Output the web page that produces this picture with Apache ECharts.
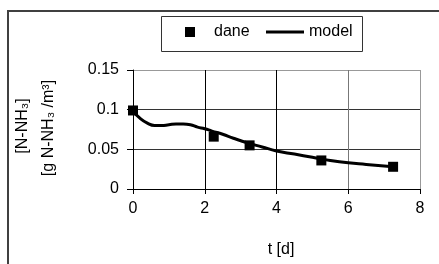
<!DOCTYPE html>
<html>
<head>
<meta charset="utf-8">
<script src="https://cdn.jsdelivr.net/npm/echarts@6/dist/echarts.min.js"></script>
<style>
html,body{margin:0;padding:0;background:#fff;}
#chart{width:439px;height:264px;}
</style>
</head>
<body>
<div id="chart"></div>
<script>
// Measured data ("dane")
const daneT = [0, 2.25, 3.25, 5.25, 7.25];
const daneV = [0.099, 0.066, 0.055, 0.036, 0.028];
// Model curve
const modelT = [0, 0.2, 0.4, 0.6, 0.8, 1.0, 1.2, 1.4, 1.6, 1.8, 2.0, 2.2, 2.5, 2.8, 3.2, 3.6, 4.0, 4.5, 5.0, 5.5, 6.0, 6.5, 7.0, 7.25];
const modelV = [0.098, 0.089, 0.083, 0.080, 0.080, 0.081, 0.082, 0.082, 0.081, 0.078, 0.076, 0.073, 0.069, 0.064, 0.058, 0.053, 0.048, 0.044, 0.040, 0.036, 0.033, 0.031, 0.029, 0.028];
const xTicks = [0, 8, 2];      // min, max, interval
const yTicks = [0, 0.15, 0.05];
const seriesNames = ['dane', 'model'];
const xTitle = 't [d]';
const yTitle1 = '[N-NH₃]';
const yTitle2 = '[g N-NH₃ /m³]';

const FONT = 'Liberation Sans, Arial, sans-serif';
const chart = echarts.init(document.getElementById('chart'), null, {renderer: 'canvas'});
chart.setOption({
  backgroundColor: '#fff',
  animation: false,
  grid: {left: 133, right: 19, top: 70, bottom: 75, show: false},
  legend: [
    {
      left: 185, top: 24, padding: 0,
      itemWidth: 10, itemHeight: 10,
      textStyle: {fontFamily: FONT, fontSize: 16, color: '#000', padding: [0, 0, 0, 14]},
      data: [{name: seriesNames[0], icon: 'rect', itemStyle: {color: '#000', opacity: 1}}]
    },
    {
      left: 266, top: 24, padding: 0,
      itemWidth: 38, itemHeight: 10,
      textStyle: {fontFamily: FONT, fontSize: 16, color: '#000'},
      data: [{name: seriesNames[1], icon: 'path://M0,0h38v3h-38z', itemStyle: {color: '#000'}}]
    }
  ],
  xAxis: {
    type: 'value', min: xTicks[0], max: xTicks[1], interval: xTicks[2],
    axisLine: {show: true, lineStyle: {color: '#000', width: 1}},
    axisTick: {show: true, length: 5, lineStyle: {color: '#000'}},
    axisLabel: {margin: 12, fontFamily: FONT, fontSize: 16, color: '#000'},
    splitLine: {show: true, lineStyle: {color: ['#000', '#000', '#000', '#777', '#999'], width: 1}}
  },
  yAxis: {
    type: 'value', min: yTicks[0], max: yTicks[1], interval: yTicks[2],
    axisLine: {show: true, lineStyle: {color: '#000', width: 1}},
    axisTick: {show: true, length: 6, lineStyle: {color: '#000'}},
    axisLabel: {margin: 14, fontFamily: FONT, fontSize: 16, color: '#000'},
    splitLine: {show: true, lineStyle: {color: ['#000', '#333', '#333', '#999'], width: 1}}
  },
  graphic: [
    {type: 'rect', shape: {x: 8, y: 11, width: 500, height: 400}, style: {fill: 'none', stroke: '#404040', lineWidth: 2}, silent: true},
    {type: 'rect', shape: {x: 161.5, y: 16.5, width: 201, height: 35}, style: {fill: 'none', stroke: '#333', lineWidth: 1}, silent: true},
    {type: 'text', x: 23, y: 126, rotation: Math.PI / 2,
     style: {text: yTitle1, font: '16px ' + FONT, fill: '#000', textAlign: 'center', textVerticalAlign: 'middle'}},
    {type: 'text', x: 49, y: 128, rotation: Math.PI / 2,
     style: {text: yTitle2, font: '16px ' + FONT, fill: '#000', textAlign: 'center', textVerticalAlign: 'middle'}},
    {type: 'text', x: 281, y: 250,
     style: {text: xTitle, font: '16px ' + FONT, fill: '#000', textAlign: 'center', textVerticalAlign: 'middle'}}
  ],
  series: [
    {
      name: seriesNames[0], type: 'scatter', symbol: 'rect', symbolSize: 10,
      itemStyle: {color: '#000', opacity: 1}, z: 4,
      data: daneT.map((t, i) => [t, daneV[i]])
    },
    {
      name: seriesNames[1], type: 'line', smooth: true, showSymbol: false, symbol: 'none',
      lineStyle: {color: '#000', width: 3}, itemStyle: {color: '#000'}, z: 3,
      data: modelT.map((t, i) => [t, modelV[i]])
    }
  ]
});
</script>
</body>
</html>
